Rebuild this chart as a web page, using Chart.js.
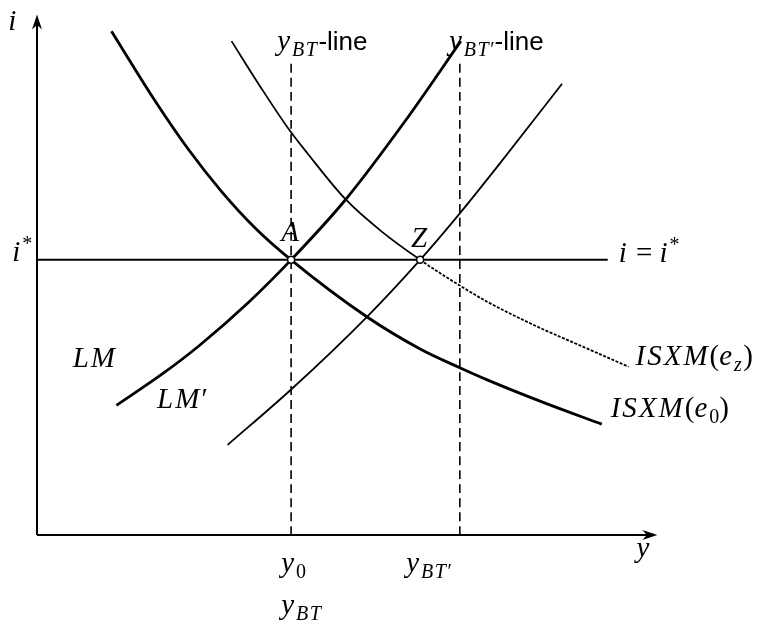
<!DOCTYPE html>
<html>
<head>
<meta charset="utf-8">
<script src="https://cdn.jsdelivr.net/npm/chart.js@4"></script>
<style>
  html, body { margin: 0; padding: 0; background: #fff; }
  #wrap { width: 777px; height: 628px; position: relative; }
</style>
</head>
<body>
<div id="wrap"><canvas id="islm"></canvas></div>
<script>
// curve points (x = output y, y = interest rate i)
const isxmE0X = [75, 120, 153, 186, 220, 256, 333, 386, 426, 453, 510, 569];
const isxmE0Y = [509, 437, 389, 347, 310, 278, 220, 188, 169, 157, 134, 112];

const isxmEzX = [196, 225, 253, 273, 311, 348, 386, 426, 453, 503, 546, 596];
const isxmEzY = [499, 453, 411, 385, 339, 306, 278, 252, 236, 211, 192, 170];

const lmX = [80, 128, 163, 213, 256, 311, 370, 427];
const lmY = [131, 164, 191, 235, 278, 339, 417, 499];

const lmPX = [192, 256, 333, 386, 426, 466, 529];
const lmPY = [91, 147, 221, 278, 325, 375, 456];

const yBT = 256;     // y0 = y_BT
const yBTp = 426;    // y_BT'
const iStar = 278;   // i = i*
const zX = 386;      // point Z
const iLineEnd = 575;
const dashTop = 480;

const pts = (xs, ys) => xs.map((x, k) => ({ x: x, y: ys[k] }));

const styles = {
    mi:    { font: 'italic 29px "Liberation Serif"', dy: 0, sp: 2 },
    rm:    { font: '29px "Liberation Serif"', dy: 0, sp: 0 },
    sub:   { font: 'italic 20px "Liberation Serif"', dy: 6, sp: 1.5 },
    subrm: { font: '20px "Liberation Serif"', dy: 6, sp: 0 },
    sup:   { font: '20px "Liberation Serif"', dy: -11, sp: 0 },
    sans:  { font: '26px "Liberation Sans"', dy: 0, sp: 0 }
};

// label text runs and anchors (data units)
const labels = [
    { x: -29, y: 510, runs: [['i', 'mi']] },
    { x: 604, y: -22, runs: [['y', 'mi']] },
    { x: -25, y: 277, runs: [['i', 'mi'], ['*', 'sup']] },
    { x: 586, y: 276, runs: [['i', 'mi'], [' = ', 'rm'], ['i', 'mi'], ['*', 'sup']] },
    { x: yBT, y: 297, runs: [['A', 'mi']], align: 'center' },
    { x: zX, y: 291, runs: [['Z', 'mi']], align: 'center' },
    { x: 36, y: 170, runs: [['LM', 'mi']] },
    { x: 121, y: 128, runs: [['LM', 'mi'], ['\u2032', 'rm']] },
    { x: 603, y: 172, runs: [['ISXM', 'mi'], ['(', 'rm'], ['e', 'mi'], ['z', 'sub'], [')', 'rm']] },
    { x: 578, y: 119, runs: [['ISXM', 'mi'], ['(', 'rm'], ['e', 'mi'], ['0', 'subrm'], [')', 'rm']] },
    { x: 246, y: -37, runs: [['y', 'mi'], ['0', 'subrm']] },
    { x: 372, y: -37, runs: [['y', 'mi'], ['BT', 'sub'], ['\u2032', 'subrm']] },
    { x: 246, y: -80, runs: [['y', 'mi'], ['BT', 'sub']] },
    { x: 242, y: 490, runs: [['y', 'mi'], ['BT', 'sub'], ['-line', 'sans']] },
    { x: 415, y: 490, runs: [['y', 'mi'], ['BT', 'sub'], ['\u2032', 'subrm'], ['-line', 'sans']] }
];

function drawRich(ctx, x, y, runs, align) {
    const chars = [];
    runs.forEach(([t, s]) => {
        const st = styles[s];
        ctx.font = st.font;
        for (const ch of t) {
            chars.push({ ch, st, w: ctx.measureText(ch).width + st.sp });
        }
    });
    const total = chars.reduce((a, c) => a + c.w, 0);
    let cx = align === 'center' ? x - total / 2 : x;
    chars.forEach(c => {
        ctx.font = c.st.font;
        ctx.fillText(c.ch, cx, y + c.st.dy);
        cx += c.w;
    });
}

function arrow(ctx, x, y, dx, dy) {
    const L = 15, W = 5;
    const px = -dy, py = dx;
    ctx.beginPath();
    ctx.moveTo(x, y);
    ctx.lineTo(x - dx * L + px * W, y - dy * L + py * W);
    ctx.lineTo(x - dx * L * 0.7, y - dy * L * 0.7);
    ctx.lineTo(x - dx * L - px * W, y - dy * L - py * W);
    ctx.closePath();
    ctx.fill();
}

const decor = {
    id: 'decor',
    beforeDatasetsDraw(chart) {
        const ctx = chart.ctx;
        const xs = chart.scales.x, ys = chart.scales.y;
        const ox = xs.getPixelForValue(0), oy = ys.getPixelForValue(0);
        const tipY = ys.getPixelForValue(526), tipX = xs.getPixelForValue(625);
        ctx.save();
        ctx.strokeStyle = '#000';
        ctx.fillStyle = '#000';
        ctx.lineWidth = 2;
        ctx.beginPath();
        ctx.moveTo(ox, oy);
        ctx.lineTo(ox, tipY + 8);
        ctx.moveTo(ox, oy);
        ctx.lineTo(tipX - 8, oy);
        ctx.stroke();
        arrow(ctx, ox, tipY, 0, -1);
        arrow(ctx, tipX, oy, 1, 0);
        ctx.restore();
    },
    afterDraw(chart) {
        const ctx = chart.ctx;
        const xs = chart.scales.x, ys = chart.scales.y;
        ctx.save();
        ctx.fillStyle = '#000';
        ctx.textBaseline = 'alphabetic';
        labels.forEach(l => {
            drawRich(ctx, xs.getPixelForValue(l.x), ys.getPixelForValue(l.y), l.runs, l.align);
        });
        ctx.restore();
    }
};

const line = (data, width, extra) => Object.assign({
    data: data,
    showLine: true,
    borderColor: '#000',
    borderWidth: width,
    pointRadius: 0,
    fill: false,
    cubicInterpolationMode: 'monotone'
}, extra || {});

new Chart(document.getElementById('islm'), {
    type: 'scatter',
    data: {
        datasets: [
            {
                data: [{ x: yBT, y: iStar }, { x: zX, y: iStar }],
                pointRadius: 3.5,
                pointBackgroundColor: '#fff',
                pointBorderColor: '#000',
                pointBorderWidth: 1.5,
                showLine: false
            },
            line(pts(isxmE0X, isxmE0Y), 2.8),
            line(pts(lmX, lmY), 2.8),
            line(pts(isxmEzX, isxmEzY), 1.8, {
                segment: { borderDash: c => c.p0.parsed.x >= zX ? [3, 1.5] : undefined }
            }),
            line(pts(lmPX, lmPY), 1.8),
            line([{ x: 0, y: iStar }, { x: iLineEnd, y: iStar }], 2),
            line([{ x: yBT, y: 0 }, { x: yBT, y: dashTop }], 1.6, { borderDash: [9, 5] }),
            line([{ x: yBTp, y: 0 }, { x: yBTp, y: dashTop }], 1.6, { borderDash: [9, 5] })
        ]
    },
    options: {
        responsive: true,
        maintainAspectRatio: false,
        animation: false,
        layout: { padding: { left: 37, top: 0, right: 0, bottom: 93 } },
        plugins: {
            legend: { display: false },
            tooltip: { enabled: false }
        },
        scales: {
            x: { type: 'linear', min: 0, max: 740, display: false },
            y: { type: 'linear', min: 0, max: 535, display: false }
        }
    },
    plugins: [decor]
});
</script>
</body>
</html>
